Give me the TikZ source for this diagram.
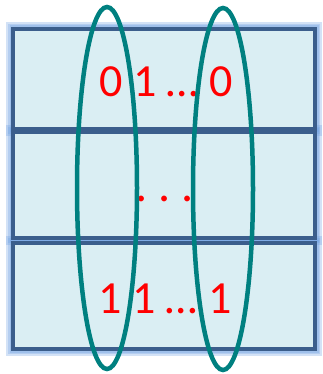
\documentclass[tikz,border=0pt]{standalone}
\usepackage{fontspec}
\setmainfont{Carlito}
\usepackage{tikz}
\usetikzlibrary{shapes.geometric,positioning}
\definecolor{rowfill}{RGB}{218,238,243}
\definecolor{rowline}{RGB}{59,94,140}
\definecolor{rowglow}{RGB}{110,160,225}
\definecolor{ringteal}{RGB}{0,128,128}

\begin{document}
\begin{tikzpicture}[
    x=1pt, y=-1pt,
    rowbox/.style={draw=rowline, fill=rowfill, line width=4pt, minimum width=302pt, inner sep=0pt},
    glowbox/.style={draw=rowglow, line width=#1, opacity=0.3, minimum width=302pt, inner sep=0pt},
    bittext/.style={text=red, font=\fontsize{46}{50}\selectfont, anchor=base, inner sep=0pt},
    colring/.style={draw=ringteal, line width=4.5pt, ellipse, minimum width=60pt, minimum height=362pt, inner sep=0pt}
]
  \useasboundingbox (0,0) rectangle (322,374);

  % glow behind the rows
  \foreach \w in {14pt,10pt,7pt} {
    \node[glowbox=\w, minimum height=100pt] at (164,79) {};
    \node[glowbox=\w, minimum height=106pt] at (164,185) {};
    \node[glowbox=\w, minimum height=106pt] at (164,296) {};
  }

  \node[rowbox, minimum height=100pt] (top) at (164,79) {};
  \node[rowbox, minimum height=106pt] (mid) at (164,185) {};
  \node[rowbox, minimum height=106pt] (bot) at (164,296) {};

  \node[bittext] (first) at (166,97) {0 1 \ldots\ 0};
  \node[bittext, font=\fontsize{48}{50}\selectfont] (dots) at (165,201) {.\ .\ .};
  \node[bittext] (last) at (165,313) {1 1 \ldots\ 1};

  \node[colring] (left) at (107,188) {};
  \node[colring] (right) at (223,189) {};
\end{tikzpicture}
\end{document}
